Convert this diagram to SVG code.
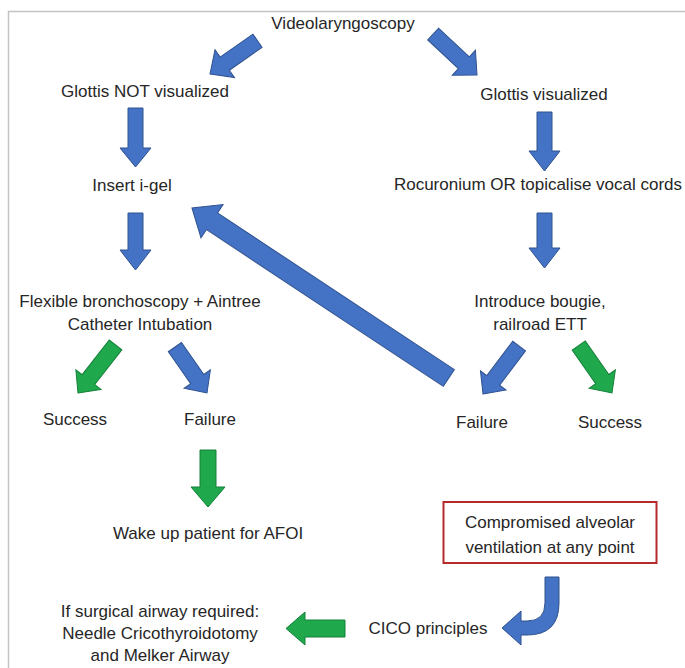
<svg xmlns="http://www.w3.org/2000/svg" width="685" height="668" viewBox="0 0 685 668">
<style>
text{font-family:"Liberation Sans",Arial,sans-serif;font-size:17px;fill:#262626;text-anchor:middle}
.b{fill:#4472c4;stroke:#2f528f;stroke-width:1}
.g{fill:#1fa84c;stroke:#15803a;stroke-width:1}
</style>
<rect x="0" y="0" width="685" height="668" fill="#fff"/>
<path d="M8.5,668 V11.5 H685" fill="none" stroke="#c3c3c3" stroke-width="1.5"/>
<g id="connectors">
<path class="b" transform="translate(210,74) rotate(145)" d="M0,0 L-18,-17 L-18,-8 L-58,-8 L-58,8 L-18,8 L-18,17 Z"/>
<path class="b" transform="translate(477,75) rotate(43)" d="M0,0 L-18,-17 L-18,-8 L-60,-8 L-60,8 L-18,8 L-18,17 Z"/>
<path class="b" d="M128,108 H143 V148 H151 L135.5,167 L120,148 H128 Z"/>
<path class="b" d="M128,213 H143 V250 H151 L135.5,270 L120,250 H128 Z"/>
<path class="b" d="M537,112 H552 V151 H560 L544.5,171 L529,151 H537 Z"/>
<path class="b" d="M537,213 H552 V248 H560 L544.5,268 L529,248 H537 Z"/>
<path class="b" transform="translate(192,208) rotate(213.5)" d="M0,0 L-24,-20 L-24,-10 L-308,-10 L-308,10 L-24,10 L-24,20 Z"/>
<path class="g" transform="translate(78,393) rotate(128)" d="M0,0 L-17,-16 L-17,-8 L-61,-8 L-61,8 L-17,8 L-17,16 Z"/>
<path class="b" transform="translate(207,393) rotate(55)" d="M0,0 L-17,-16 L-17,-8 L-56,-8 L-56,8 L-17,8 L-17,16 Z"/>
<path class="b" transform="translate(483,394) rotate(127)" d="M0,0 L-17,-16 L-17,-8 L-60,-8 L-60,8 L-17,8 L-17,16 Z"/>
<path class="g" transform="translate(612,393) rotate(55)" d="M0,0 L-17,-16 L-17,-8 L-58,-8 L-58,8 L-17,8 L-17,16 Z"/>
<path class="g" d="M200,450 H216 V487 H225 L208,507 L191,487 H200 Z"/>
<path class="g" d="M345,620 V637 H305 V645 L286,628.5 L305,612 V620 Z"/>
<path class="b" d="M545,577 H559 V603 Q559,635 527,635 H521 V645 L502,628 L521,611 V621 H527 Q545,621 545,603 Z"/>
</g>
<g id="n-video"><text x="343" y="29">Videolaryngoscopy</text></g>
<g id="n-notvis"><text x="145" y="97">Glottis NOT visualized</text></g>
<g id="n-vis"><text x="544" y="100">Glottis visualized</text></g>
<g id="n-igel"><text x="132" y="191">Insert i-gel</text></g>
<g id="n-roc"><text x="538" y="190">Rocuronium OR topicalise vocal cords</text></g>
<g id="n-flex"><text x="140" y="307">Flexible bronchoscopy + Aintree</text><text x="140" y="330">Catheter Intubation</text></g>
<g id="n-bougie"><text x="540" y="307">Introduce bougie,</text><text x="540" y="330">railroad ETT</text></g>
<g id="n-succ1"><text x="75" y="425">Success</text></g>
<g id="n-fail1"><text x="210" y="425">Failure</text></g>
<g id="n-fail2"><text x="482" y="428">Failure</text></g>
<g id="n-succ2"><text x="610" y="428">Success</text></g>
<g id="n-wake"><text x="208" y="539">Wake up patient for AFOI</text></g>
<g id="n-comp"><rect x="443.5" y="502" width="213" height="61" fill="#fff" stroke="#b52a2a" stroke-width="2"/><text x="550" y="528">Compromised alveolar</text><text x="550" y="553">ventilation at any point</text></g>
<g id="n-cico"><text x="428" y="634">CICO principles</text></g>
<g id="n-surg"><text x="160" y="617">If surgical airway required:</text><text x="160" y="639">Needle Cricothyroidotomy</text><text x="160" y="661">and Melker Airway</text></g>
</svg>
